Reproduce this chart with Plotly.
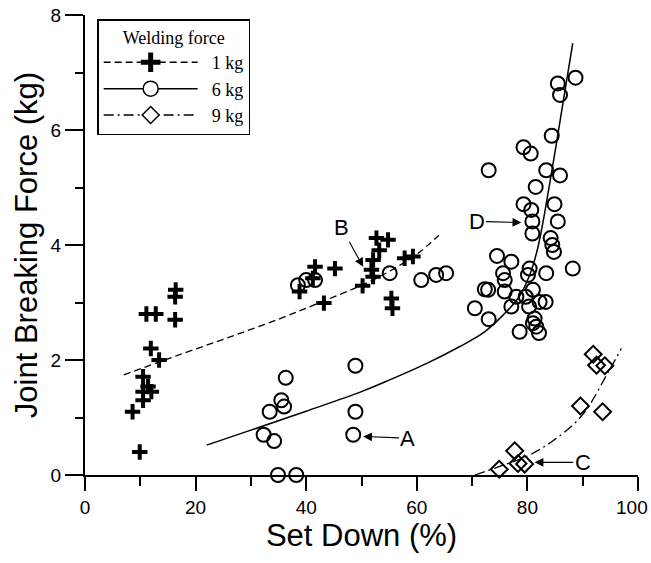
import plotly.graph_objects as go

# ---- measured joint strength vs. set down, by welding force ----
# 1 kg welding force
x_1kg = [16.4, 16.3, 11.1, 12.8, 16.3, 11.9, 13.4, 10.5, 11.4, 10.5, 12.0, 10.5, 8.6, 9.9,
         41.6, 45.2, 41.2, 38.8, 43.2, 52.7, 54.8, 53.2, 52.1, 51.8, 52.1, 50.2, 57.8, 59.3,
         55.4, 55.6]
y_1kg = [3.22, 3.10, 2.80, 2.80, 2.70, 2.20, 2.00, 1.71, 1.54, 1.45, 1.45, 1.30, 1.10, 0.40,
         3.62, 3.59, 3.42, 3.19, 2.99, 4.12, 4.09, 3.91, 3.74, 3.57, 3.45, 3.29, 3.77, 3.80,
         3.07, 2.90]

# 6 kg welding force
x_6kg = [36.3, 48.9, 35.5, 36.0, 33.4, 48.9, 32.3, 34.2, 48.5, 34.9, 38.2,
         38.5, 40.0, 41.6, 55.1, 60.8, 63.5, 65.3,
         88.7, 85.5, 85.9, 84.4, 79.3, 80.6, 73.0, 83.4, 85.9, 81.5, 84.9, 79.3, 80.7,
         85.5, 80.9, 80.9, 84.2, 84.5, 84.8, 74.5, 77.1, 80.4, 80.1, 83.4, 88.2, 75.6,
         75.9, 72.9, 72.3, 75.9, 78.0, 79.7, 81.0, 82.2, 83.3, 77.1, 80.3, 70.5, 73.0,
         81.3, 81.0, 81.6, 78.6, 82.1]
y_6kg = [1.69, 1.90, 1.30, 1.19, 1.10, 1.10, 0.70, 0.59, 0.70, 0.00, 0.00,
         3.30, 3.39, 3.39, 3.51, 3.39, 3.48, 3.51,
         6.91, 6.81, 6.61, 5.90, 5.70, 5.59, 5.30, 5.30, 5.21, 5.01, 4.71, 4.71, 4.61,
         4.41, 4.41, 4.20, 4.12, 4.00, 3.88, 3.81, 3.71, 3.59, 3.48, 3.51, 3.59, 3.51,
         3.39, 3.22, 3.23, 3.19, 3.10, 3.10, 3.22, 3.01, 3.01, 2.93, 2.93, 2.90, 2.71,
         2.72, 2.64, 2.58, 2.49, 2.47]

# 9 kg welding force
x_9kg = [91.9, 92.5, 94.0, 89.6, 93.6, 77.7, 78.3, 79.5, 74.9]
y_9kg = [2.10, 1.91, 1.90, 1.20, 1.10, 0.42, 0.20, 0.19, 0.10]

# ---- fitted trend curves ----
fit_x_1kg = [7.0, 15.0, 25.0, 35.0, 42.5, 50.0, 55.0, 60.0, 64.0]
fit_y_1kg = [1.74, 2.02, 2.36, 2.71, 3.00, 3.30, 3.54, 3.84, 4.17]

fit_x_6kg = [22.0, 30.0, 40.0, 50.0, 55.0, 62.0, 67.7, 72.0, 75.6, 78.5, 80.5, 82.0, 84.0, 86.4, 88.2]
fit_y_6kg = [0.52, 0.78, 1.11, 1.45, 1.65, 1.95, 2.23, 2.47, 2.78, 3.10, 3.50, 4.00, 5.05, 6.45, 7.51]

fit_x_9kg = [70.5, 75.0, 80.0, 85.0, 90.0, 94.5, 97.0]
fit_y_9kg = [0.00, 0.15, 0.33, 0.62, 1.05, 1.77, 2.20]

x_ticks = [0, 20, 40, 60, 80, 100]
x_tick_text = ["0", "20", "40", "60", "80", ""]  # the end label is placed separately, pulled inward
legend_labels = ["1 kg", "6 kg", "9 kg"]

# ---- callouts: (label, label x, label y, arrow tip x, arrow tip y) ----
callouts = [
    ("A", 58.4, 0.64, 50.3, 0.67),
    ("B", 46.4, 4.30, 50.3, 3.62),
    ("C", 90.0, 0.22, 81.3, 0.22),
    ("D", 70.8, 4.41, 78.9, 4.39),
]

DASH_1 = "7px,4px"
DASH_9 = "10px,4px,2px,4px"
SANS = "Liberation Sans, Arial, sans-serif"
SERIF = "Liberation Serif, Times New Roman, serif"
PAD = "\u00a0\u00a0"

fig = go.Figure()

# trend curves
fig.add_trace(go.Scatter(x=fit_x_1kg, y=fit_y_1kg, mode="lines", line_shape="spline",
                         line=dict(color="black", width=1.3, dash=DASH_1), showlegend=False))
fig.add_trace(go.Scatter(x=fit_x_6kg, y=fit_y_6kg, mode="lines", line_shape="spline",
                         line=dict(color="black", width=1.5), showlegend=False))
fig.add_trace(go.Scatter(x=fit_x_9kg, y=fit_y_9kg, mode="lines", line_shape="spline",
                         line=dict(color="black", width=1.3, dash=DASH_9), showlegend=False))

# measured points
fig.add_trace(go.Scatter(x=x_1kg, y=y_1kg, mode="markers", cliponaxis=False, showlegend=False,
                         marker=dict(symbol="cross-thin-open", size=11, color="black",
                                     line=dict(width=4, color="black"))))
fig.add_trace(go.Scatter(x=x_6kg, y=y_6kg, mode="markers", cliponaxis=False, showlegend=False,
                         marker=dict(symbol="circle-open", size=14, color="black",
                                     line=dict(width=2, color="black"))))
fig.add_trace(go.Scatter(x=x_9kg, y=y_9kg, mode="markers", cliponaxis=False, showlegend=False,
                         marker=dict(symbol="diamond-open", size=13, color="black",
                                     line=dict(width=2, color="black"))))

# legend entries (line style + marker)
fig.add_trace(go.Scatter(x=[None], y=[None], mode="lines+markers", name=PAD + legend_labels[0],
                         line=dict(color="black", width=1.5, dash=DASH_1),
                         marker=dict(symbol="cross-thin-open", size=14, color="black",
                                     line=dict(width=6, color="black"))))
fig.add_trace(go.Scatter(x=[None], y=[None], mode="lines+markers", name=PAD + legend_labels[1],
                         line=dict(color="black", width=1.5),
                         marker=dict(symbol="circle", size=15, color="white",
                                     line=dict(width=1.5, color="black"))))
fig.add_trace(go.Scatter(x=[None], y=[None], mode="lines+markers", name=PAD + legend_labels[2],
                         line=dict(color="black", width=1.5, dash=DASH_9),
                         marker=dict(symbol="diamond", size=13, color="white",
                                     line=dict(width=1.5, color="black"))))

for label, lx, ly, tx, ty in callouts:
    fig.add_annotation(x=tx, y=ty, ax=lx, ay=ly, axref="x", ayref="y", xref="x", yref="y",
                       text=label, showarrow=True, arrowhead=2, arrowsize=1.6, arrowwidth=1.1,
                       arrowcolor="black", standoff=0,
                       font=dict(family=SANS, size=22, color="black"))

# end-of-axis tick label, kept inside the figure edge
fig.add_annotation(x=x_ticks[-1], y=0, xref="x", yref="paper", text=str(x_ticks[-1]),
                   showarrow=False, xanchor="right", yanchor="middle", xshift=12, yshift=-32,
                   font=dict(family=SANS, size=19, color="black"))

axis_common = dict(showline=True, linecolor="black", linewidth=2, ticks="outside",
                   tickcolor="black", tickwidth=2, showgrid=False, zeroline=False,
                   automargin=False,
                   tickfont=dict(family=SANS, size=19, color="black"))

fig.update_xaxes(range=[0, 100], tickmode="array", tickvals=x_ticks, ticktext=x_tick_text,
                 ticklen=14,
                 minor=dict(tickmode="linear", tick0=0, dtick=10, ticklen=9, tickwidth=2,
                            tickcolor="black", ticks="outside"),
                 title=dict(text="Set Down (%)", font=dict(family=SANS, size=31, color="black"),
                            standoff=8),
                 **axis_common)
fig.update_yaxes(range=[0, 8], tick0=0, dtick=2, ticklen=18,
                 minor=dict(dtick=1, ticklen=8, tickwidth=2, tickcolor="black", ticks="outside"),
                 title=dict(text="Joint Breaking Force (kg)",
                            font=dict(family=SANS, size=31, color="black"), standoff=4),
                 **axis_common)

fig.update_layout(
    width=651, height=563,
    margin=dict(l=85, r=12.5, t=15, b=88),
    paper_bgcolor="white", plot_bgcolor="white",
    legend=dict(x=0.022, y=0.991, xanchor="left", yanchor="top",
                bordercolor="black", borderwidth=1.5, bgcolor="white",
                itemwidth=94, font=dict(family=SERIF, size=18, color="black"),
                title=dict(text="Welding force", side="top center",
                           font=dict(family=SERIF, size=18, color="black"))),
)

fig.write_html("out.html")
